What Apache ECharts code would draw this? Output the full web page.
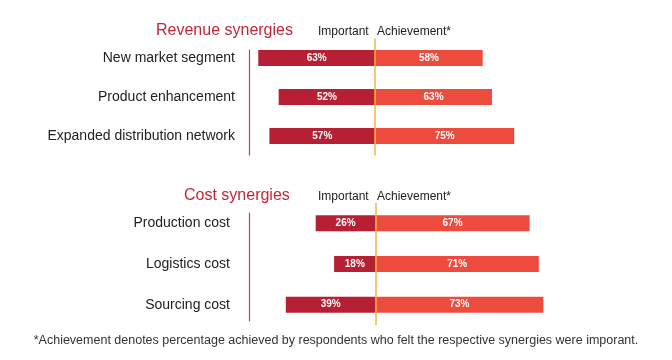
<!DOCTYPE html>
<html>
<head>
<meta charset="utf-8">
<script src="https://cdn.jsdelivr.net/npm/echarts@6/dist/echarts.min.js"></script>
<style>html,body{margin:0;padding:0;background:#fff}#c{width:672px;height:360px}</style>
</head>
<body>
<div id="c"></div>
<script>
var revenueCategories = ['New market segment', 'Product enhancement', 'Expanded distribution network'];
var revenueImportant = [63, 52, 57];
var revenueAchievement = [58, 63, 75];
var costCategories = ['Production cost', 'Logistics cost', 'Sourcing cost'];
var costImportant = [26, 18, 39];
var costAchievement = [67, 71, 73];
var footnote = '*Achievement denotes percentage achieved by respondents who felt the respective synergies were imporant.';

var FONT = '"Liberation Sans", Arial, Helvetica, sans-serif';
var DARK = '#b71f34';
var LIGHT = '#ee4b3f';
var ORANGE = '#f5b43c';
var CRIMSON = '#c0263b';

function neg(a){ return a.map(function(v){ return -v; }); }
function lbl(){ return {show:true, position:'inside', color:'#fff', fontWeight:'bold', fontSize:10, fontFamily:FONT,
  formatter:function(p){ return Math.abs(p.value) + '%'; }}; }

function makeSeries(idx, imp, ach){
  return [
    {type:'bar', name:'Important', xAxisIndex:idx, yAxisIndex:idx, stack:'s'+idx, data:neg(imp), barWidth:16,
     itemStyle:{color:DARK}, label:lbl(), silent:true},
    {type:'bar', name:'Achievement', xAxisIndex:idx, yAxisIndex:idx, stack:'s'+idx, data:ach, barWidth:16,
     itemStyle:{color:LIGHT}, label:lbl(), silent:true,
     markLine:{silent:true, symbol:'none', label:{show:false}, lineStyle:{color:ORANGE, width:1.5, type:'solid'},
       data:[{xAxis:0}], z:10}}
  ];
}
function yAx(idx, cats, margin){
  return {type:'category', gridIndex:idx, data:cats, inverse:true,
    axisLine:{show:false},
    axisTick:{show:false}, splitLine:{show:false},
    axisLabel:{color:'#222', fontSize:14, fontFamily:FONT, margin:margin}};
}
function lineAx(idx, cats){
  return {type:'category', gridIndex:idx, data:cats, inverse:true,
    axisLine:{show:true, onZero:false, lineStyle:{color:'#b5475a', width:1.2}},
    axisTick:{show:false}, splitLine:{show:false}, axisLabel:{show:false}};
}
function xAx(idx, mn, mx){
  return {type:'value', gridIndex:idx, min:mn, max:mx, show:false, splitLine:{show:false}};
}
function txt(t, left, top, size, color){
  return {text:t, left:left, top:top, padding:0,
    textStyle:{fontSize:size, fontWeight:'normal', color:color, fontFamily:FONT}};
}

var chart = echarts.init(document.getElementById('c'), null, {renderer:'canvas'});
chart.setOption({
  animation:false,
  backgroundColor:'#fff',
  title:[
    txt('Revenue synergies', 156, 23, 16, CRIMSON),
    txt('Important', 318, 26, 12, '#222'),
    txt('Achievement*', 377, 26, 12, '#222'),
    txt('Cost synergies', 184, 188, 16, CRIMSON),
    txt('Important', 318, 191, 12, '#222'),
    txt('Achievement*', 377, 191, 12, '#222'),
    {text:footnote, left:'center', top:334, padding:0,
     textStyle:{fontSize:12.5, fontWeight:'normal', color:'#333', fontFamily:FONT}}
  ],
  grid:[
    {left:249, top:38.5, width:274.5, height:117},
    {left:249, top:203, width:310.5, height:122},
    {left:249, top:50, width:274.5, height:105},
    {left:249, top:213, width:310.5, height:108}
  ],
  xAxis:[xAx(0, -68, 80), xAx(1, -55, 80), xAx(2, -68, 80), xAx(3, -55, 80)],
  yAxis:[yAx(0, revenueCategories, 14), yAx(1, costCategories, 19), lineAx(2, revenueCategories), lineAx(3, costCategories)],
  series:[].concat(makeSeries(0, revenueImportant, revenueAchievement), makeSeries(1, costImportant, costAchievement))
});
</script>
</body>
</html>
